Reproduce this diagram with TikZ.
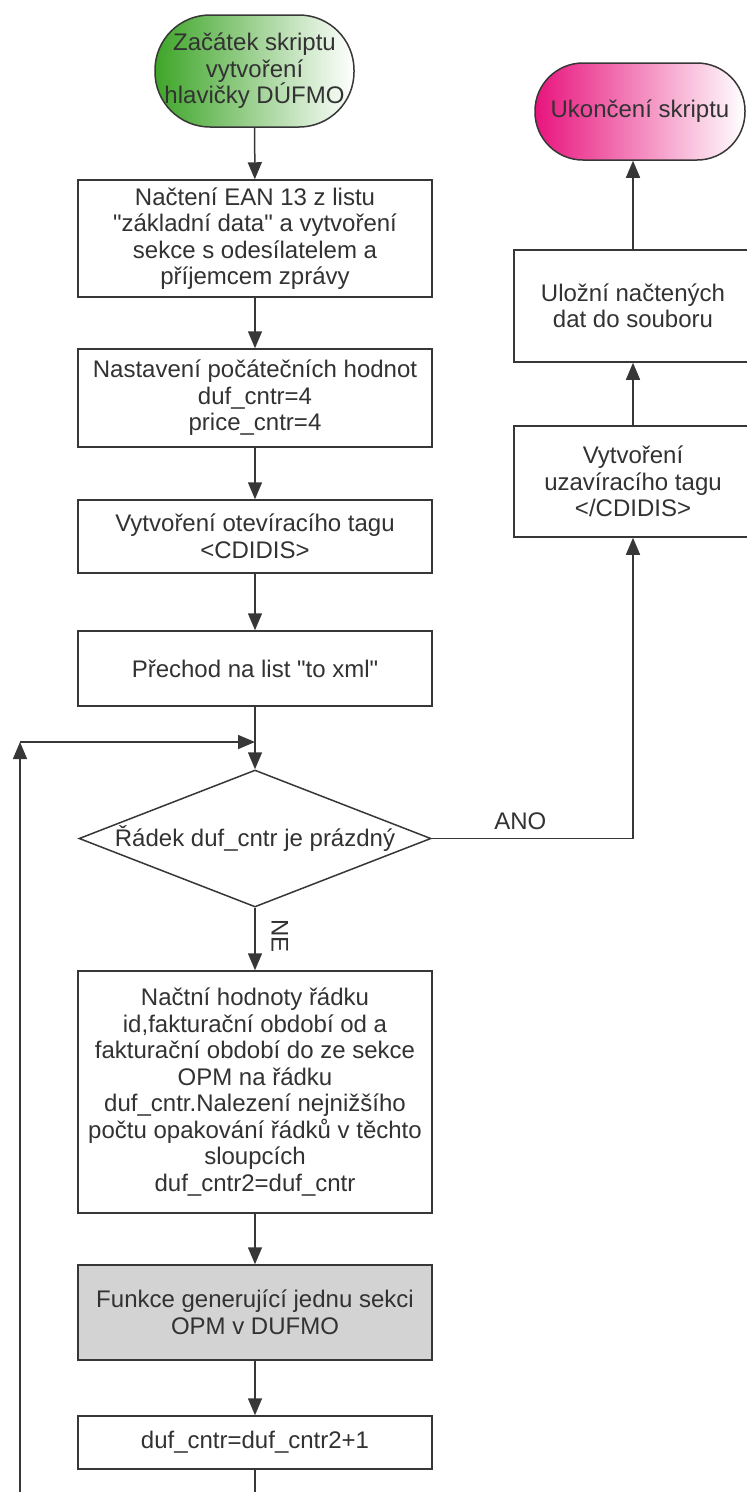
\documentclass[tikz,border=0pt]{standalone}
\usepackage{fontspec}
\setmainfont{Liberation Sans}
\usetikzlibrary{arrows.meta,shapes.geometric}
\definecolor{ink}{RGB}{55,55,55}
\definecolor{txt}{RGB}{50,50,50}
\definecolor{startgreen}{RGB}{62,165,40}
\definecolor{endpink}{RGB}{232,20,125}
\definecolor{boxgray}{RGB}{211,211,211}

\begin{document}
\begin{tikzpicture}[x=1pt,y=-1pt,
  every node/.style={font=\fontsize{24}{26.5}\selectfont, text=txt, align=center, inner sep=0pt},
  line/.style={draw=ink, line width=1.5pt},
  conn/.style={line, -{Triangle[length=17pt,width=14pt]}},
  procbox/.style={line, rectangle, fill=white},
  termbox/.style={line, rectangle, rounded corners=#1},
  decbox/.style={line, diamond, aspect=2.57, fill=white}]

\useasboundingbox (0,0) rectangle (747,1492);

% main column
\node[termbox=55pt, left color=startgreen, middle color=startgreen!72!white, right color=white,
  minimum width=199pt, minimum height=112pt]
  (start) at (254.5,71) {Začátek skriptu\\vytvoření\\hlavičky DÚFMO};
\node[procbox, minimum width=354pt, minimum height=117pt] (b1) at (255,238.5)
  {Načtení EAN 13 z listu\\\textquotedbl základní data\textquotedbl\ a vytvoření\\sekce s odesílatelem a\\příjemcem zprávy};
\node[procbox, minimum width=354pt, minimum height=98pt] (b2) at (255,398)
  {Nastavení počátečních hodnot\\duf\_cntr=4\\price\_cntr=4};
\node[procbox, minimum width=354pt, minimum height=73pt] (b3) at (255,536.5)
  {Vytvoření otevíracího tagu\\<CDIDIS>};
\node[procbox, minimum width=354pt, minimum height=75pt] (b4) at (255,668.5)
  {Přechod na list \textquotedbl to xml\textquotedbl};
\node[decbox, minimum width=352pt, minimum height=137pt] (dia) at (255,838.5)
  {Řádek duf\_cntr je prázdný};
\node[procbox, minimum width=354pt, minimum height=242pt] (b6) at (255,1092)
  {Načtní hodnoty řádku\\id,fakturační období od a\\fakturační období do ze sekce\\OPM na řádku\\duf\_cntr.Nalezení nejnižšího\\počtu opakování řádků v těchto\\sloupcích\\duf\_cntr2=duf\_cntr};
\node[procbox, fill=boxgray, minimum width=354pt, minimum height=95pt] (b7) at (255,1312.5)
  {Funkce generující jednu sekci\\OPM v DUFMO};
\node[procbox, minimum width=354pt, minimum height=53pt] (b8) at (255,1442.5)
  {duf\_cntr=duf\_cntr2+1};

% right column
\node[termbox=48pt, left color=endpink, middle color=endpink!60!white, right color=white,
  minimum width=210pt, minimum height=97pt]
  (end) at (640,111.5) {Ukončení skriptu};
\node[procbox, minimum width=238pt, minimum height=112pt] (r2) at (633,306)
  {Uložní načtených\\dat do souboru};
\node[procbox, minimum width=238pt, minimum height=111pt] (r1) at (633,481.5)
  {Vytvoření\\uzavíracího tagu\\</CDIDIS>};

% loop and free ends
\coordinate (loopbot) at (20,1492);
\coordinate (loopcorner) at (20,742);
\coordinate (merge) at (255,742);
\coordinate (tail) at (255,1492);

% connectors
\draw[conn] (start) -- (b1);
\draw[conn] (b1) -- (b2);
\draw[conn] (b2) -- (b3);
\draw[conn] (b3) -- (b4);
\draw[conn] (b4) -- (dia);
\draw[conn] (loopbot) -- (loopcorner);
\draw[conn] (loopcorner) -- (merge);
\draw[conn] (dia) -- node[pos=0.45, xshift=25pt, rotate=-90] {NE} (b6);
\draw[conn] (b6) -- (b7);
\draw[conn] (b7) -- (b8);
\draw[line] (b8) -- (tail);
\draw[conn] (dia.east) -| node[pos=0.22, above=8pt] {ANO} (r1.south);
\draw[conn] (r1) -- (r2);
\draw[conn] (r2.north) -- (r2.north |- end.south);
\end{tikzpicture}
\end{document}
